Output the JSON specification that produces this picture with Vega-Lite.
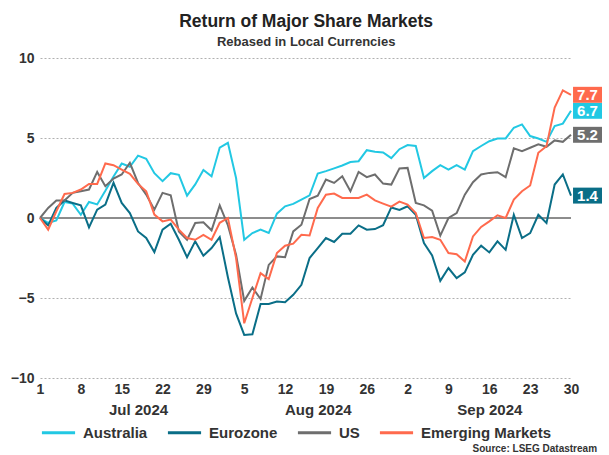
{
  "$schema": "https://vega.github.io/schema/vega-lite/v6.json",
  "background": "white",
  "padding": {"left": 10, "right": 0, "top": 12, "bottom": 0},
  "config": {"font": "Liberation Sans", "view": {"stroke": null}},
  "title": {
    "text": "Return of Major Share Markets",
    "subtitle": "Rebased in Local Currencies",
    "anchor": "middle",
    "fontSize": 17.5,
    "fontWeight": "bold",
    "color": "#222222",
    "subtitleFontSize": 13,
    "subtitleFontWeight": "bold",
    "subtitleColor": "#333333",
    "subtitlePadding": 6,
    "offset": 2
  },
  "resolve": {"legend": {"color": "independent"}},
  "datasets": {
    "returns": [
      {"date":"2024-07-01","market":"Australia","value":0},{"date":"2024-07-01","market":"Eurozone","value":0},{"date":"2024-07-01","market":"US","value":0},{"date":"2024-07-01","market":"Emerging Markets","value":0},
      {"date":"2024-07-02","market":"Australia","value":-0.3},{"date":"2024-07-02","market":"Eurozone","value":-0.46},{"date":"2024-07-02","market":"US","value":0.63},{"date":"2024-07-02","market":"Emerging Markets","value":-0.73},
      {"date":"2024-07-03","market":"Australia","value":-0.15},{"date":"2024-07-03","market":"Eurozone","value":0.63},{"date":"2024-07-03","market":"US","value":1.09},{"date":"2024-07-03","market":"Emerging Markets","value":0.42},
      {"date":"2024-07-04","market":"Australia","value":1.0},{"date":"2024-07-04","market":"Eurozone","value":1.1},{"date":"2024-07-04","market":"US","value":1.09},{"date":"2024-07-04","market":"Emerging Markets","value":1.5},
      {"date":"2024-07-05","market":"Australia","value":0.9},{"date":"2024-07-05","market":"Eurozone","value":0.94},{"date":"2024-07-05","market":"US","value":1.57},{"date":"2024-07-05","market":"Emerging Markets","value":1.57},
      {"date":"2024-07-08","market":"Australia","value":0.2},{"date":"2024-07-08","market":"Eurozone","value":0.79},{"date":"2024-07-08","market":"US","value":1.67},{"date":"2024-07-08","market":"Emerging Markets","value":1.78},
      {"date":"2024-07-09","market":"Australia","value":1.0},{"date":"2024-07-09","market":"Eurozone","value":-0.59},{"date":"2024-07-09","market":"US","value":1.78},{"date":"2024-07-09","market":"Emerging Markets","value":2.13},
      {"date":"2024-07-10","market":"Australia","value":0.85},{"date":"2024-07-10","market":"Eurozone","value":0.52},{"date":"2024-07-10","market":"US","value":2.88},{"date":"2024-07-10","market":"Emerging Markets","value":2.13},
      {"date":"2024-07-11","market":"Australia","value":1.7},{"date":"2024-07-11","market":"Eurozone","value":0.84},{"date":"2024-07-11","market":"US","value":1.99},{"date":"2024-07-11","market":"Emerging Markets","value":3.41},
      {"date":"2024-07-12","market":"Australia","value":2.6},{"date":"2024-07-12","market":"Eurozone","value":2.2},{"date":"2024-07-12","market":"US","value":2.47},{"date":"2024-07-12","market":"Emerging Markets","value":3.3},
      {"date":"2024-07-15","market":"Australia","value":3.4},{"date":"2024-07-15","market":"Eurozone","value":0.94},{"date":"2024-07-15","market":"US","value":2.72},{"date":"2024-07-15","market":"Emerging Markets","value":3.03},
      {"date":"2024-07-16","market":"Australia","value":3.2},{"date":"2024-07-16","market":"Eurozone","value":0.31},{"date":"2024-07-16","market":"US","value":3.45},{"date":"2024-07-16","market":"Emerging Markets","value":2.76},
      {"date":"2024-07-17","market":"Australia","value":3.9},{"date":"2024-07-17","market":"Eurozone","value":-0.84},{"date":"2024-07-17","market":"US","value":2.19},{"date":"2024-07-17","market":"Emerging Markets","value":2.13},
      {"date":"2024-07-18","market":"Australia","value":3.7},{"date":"2024-07-18","market":"Eurozone","value":-1.25},{"date":"2024-07-18","market":"US","value":1.46},{"date":"2024-07-18","market":"Emerging Markets","value":1.67},
      {"date":"2024-07-19","market":"Australia","value":2.8},{"date":"2024-07-19","market":"Eurozone","value":-2.13},{"date":"2024-07-19","market":"US","value":0.52},{"date":"2024-07-19","market":"Emerging Markets","value":0.21},
      {"date":"2024-07-22","market":"Australia","value":2.3},{"date":"2024-07-22","market":"Eurozone","value":-0.73},{"date":"2024-07-22","market":"US","value":1.57},{"date":"2024-07-22","market":"Emerging Markets","value":-0.21},
      {"date":"2024-07-23","market":"Australia","value":2.8},{"date":"2024-07-23","market":"Eurozone","value":-0.36},{"date":"2024-07-23","market":"US","value":1.42},{"date":"2024-07-23","market":"Emerging Markets","value":-0.1},
      {"date":"2024-07-24","market":"Australia","value":2.7},{"date":"2024-07-24","market":"Eurozone","value":-1.36},{"date":"2024-07-24","market":"US","value":-0.84},{"date":"2024-07-24","market":"Emerging Markets","value":-0.73},
      {"date":"2024-07-25","market":"Australia","value":1.4},{"date":"2024-07-25","market":"Eurozone","value":-2.45},{"date":"2024-07-25","market":"US","value":-1.36},{"date":"2024-07-25","market":"Emerging Markets","value":-1.25},
      {"date":"2024-07-26","market":"Australia","value":2.1},{"date":"2024-07-26","market":"Eurozone","value":-1.46},{"date":"2024-07-26","market":"US","value":-0.31},{"date":"2024-07-26","market":"Emerging Markets","value":-1.36},
      {"date":"2024-07-29","market":"Australia","value":3.0},{"date":"2024-07-29","market":"Eurozone","value":-2.36},{"date":"2024-07-29","market":"US","value":-0.27},{"date":"2024-07-29","market":"Emerging Markets","value":-1.05},
      {"date":"2024-07-30","market":"Australia","value":2.6},{"date":"2024-07-30","market":"Eurozone","value":-1.88},{"date":"2024-07-30","market":"US","value":-0.77},{"date":"2024-07-30","market":"Emerging Markets","value":-1.36},
      {"date":"2024-07-31","market":"Australia","value":4.4},{"date":"2024-07-31","market":"Eurozone","value":-1.19},{"date":"2024-07-31","market":"US","value":0.79},{"date":"2024-07-31","market":"Emerging Markets","value":-0.3},
      {"date":"2024-08-01","market":"Australia","value":4.7},{"date":"2024-08-01","market":"Eurozone","value":-3.7},{"date":"2024-08-01","market":"US","value":-0.45},{"date":"2024-08-01","market":"Emerging Markets","value":0.0},
      {"date":"2024-08-02","market":"Australia","value":2.5},{"date":"2024-08-02","market":"Eurozone","value":-5.96},{"date":"2024-08-02","market":"US","value":-2.3},{"date":"2024-08-02","market":"Emerging Markets","value":-2.5},
      {"date":"2024-08-05","market":"Australia","value":-1.36},{"date":"2024-08-05","market":"Eurozone","value":-7.31},{"date":"2024-08-05","market":"US","value":-5.18},{"date":"2024-08-05","market":"Emerging Markets","value":-6.58},
      {"date":"2024-08-06","market":"Australia","value":-0.94},{"date":"2024-08-06","market":"Eurozone","value":-7.27},{"date":"2024-08-06","market":"US","value":-4.35},{"date":"2024-08-06","market":"Emerging Markets","value":-5.0},
      {"date":"2024-08-07","market":"Australia","value":-0.73},{"date":"2024-08-07","market":"Eurozone","value":-5.37},{"date":"2024-08-07","market":"US","value":-5.06},{"date":"2024-08-07","market":"Emerging Markets","value":-3.45},
      {"date":"2024-08-08","market":"Australia","value":-0.94},{"date":"2024-08-08","market":"Eurozone","value":-5.37},{"date":"2024-08-08","market":"US","value":-2.93},{"date":"2024-08-08","market":"Emerging Markets","value":-3.82},
      {"date":"2024-08-09","market":"Australia","value":0.27},{"date":"2024-08-09","market":"Eurozone","value":-5.22},{"date":"2024-08-09","market":"US","value":-2.4},{"date":"2024-08-09","market":"Emerging Markets","value":-2.19},
      {"date":"2024-08-12","market":"Australia","value":0.73},{"date":"2024-08-12","market":"Eurozone","value":-5.27},{"date":"2024-08-12","market":"US","value":-2.45},{"date":"2024-08-12","market":"Emerging Markets","value":-1.73},
      {"date":"2024-08-13","market":"Australia","value":0.88},{"date":"2024-08-13","market":"Eurozone","value":-4.8},{"date":"2024-08-13","market":"US","value":-0.84},{"date":"2024-08-13","market":"Emerging Markets","value":-1.6},
      {"date":"2024-08-14","market":"Australia","value":1.15},{"date":"2024-08-14","market":"Eurozone","value":-4.18},{"date":"2024-08-14","market":"US","value":-0.42},{"date":"2024-08-14","market":"Emerging Markets","value":-1.05},
      {"date":"2024-08-15","market":"Australia","value":1.42},{"date":"2024-08-15","market":"Eurozone","value":-2.5},{"date":"2024-08-15","market":"US","value":1.19},{"date":"2024-08-15","market":"Emerging Markets","value":-1.09},
      {"date":"2024-08-16","market":"Australia","value":2.78},{"date":"2024-08-16","market":"Eurozone","value":-1.88},{"date":"2024-08-16","market":"US","value":1.4},{"date":"2024-08-16","market":"Emerging Markets","value":0.63},
      {"date":"2024-08-19","market":"Australia","value":2.93},{"date":"2024-08-19","market":"Eurozone","value":-1.25},{"date":"2024-08-19","market":"US","value":2.4},{"date":"2024-08-19","market":"Emerging Markets","value":1.46},
      {"date":"2024-08-20","market":"Australia","value":3.1},{"date":"2024-08-20","market":"Eurozone","value":-1.5},{"date":"2024-08-20","market":"US","value":2.19},{"date":"2024-08-20","market":"Emerging Markets","value":1.53},
      {"date":"2024-08-21","market":"Australia","value":3.28},{"date":"2024-08-21","market":"Eurozone","value":-0.98},{"date":"2024-08-21","market":"US","value":2.61},{"date":"2024-08-21","market":"Emerging Markets","value":1.25},
      {"date":"2024-08-22","market":"Australia","value":3.5},{"date":"2024-08-22","market":"Eurozone","value":-0.98},{"date":"2024-08-22","market":"US","value":1.67},{"date":"2024-08-22","market":"Emerging Markets","value":1.25},
      {"date":"2024-08-23","market":"Australia","value":3.55},{"date":"2024-08-23","market":"Eurozone","value":-0.46},{"date":"2024-08-23","market":"US","value":2.88},{"date":"2024-08-23","market":"Emerging Markets","value":1.25},
      {"date":"2024-08-26","market":"Australia","value":4.24},{"date":"2024-08-26","market":"Eurozone","value":-0.73},{"date":"2024-08-26","market":"US","value":2.55},{"date":"2024-08-26","market":"Emerging Markets","value":1.46},
      {"date":"2024-08-27","market":"Australia","value":4.14},{"date":"2024-08-27","market":"Eurozone","value":-0.69},{"date":"2024-08-27","market":"US","value":2.72},{"date":"2024-08-27","market":"Emerging Markets","value":1.1},
      {"date":"2024-08-28","market":"Australia","value":4.1},{"date":"2024-08-28","market":"Eurozone","value":-0.45},{"date":"2024-08-28","market":"US","value":2.15},{"date":"2024-08-28","market":"Emerging Markets","value":0.9},
      {"date":"2024-08-29","market":"Australia","value":3.74},{"date":"2024-08-29","market":"Eurozone","value":0.66},{"date":"2024-08-29","market":"US","value":2.09},{"date":"2024-08-29","market":"Emerging Markets","value":0.71},
      {"date":"2024-08-30","market":"Australia","value":4.3},{"date":"2024-08-30","market":"Eurozone","value":0.5},{"date":"2024-08-30","market":"US","value":3.1},{"date":"2024-08-30","market":"Emerging Markets","value":1.02},
      {"date":"2024-09-02","market":"Australia","value":4.56},{"date":"2024-09-02","market":"Eurozone","value":0.73},{"date":"2024-09-02","market":"US","value":3.13},{"date":"2024-09-02","market":"Emerging Markets","value":0.84},
      {"date":"2024-09-03","market":"Australia","value":4.5},{"date":"2024-09-03","market":"Eurozone","value":0.2},{"date":"2024-09-03","market":"US","value":0.94},{"date":"2024-09-03","market":"Emerging Markets","value":0.31},
      {"date":"2024-09-04","market":"Australia","value":2.5},{"date":"2024-09-04","market":"Eurozone","value":-1.57},{"date":"2024-09-04","market":"US","value":0.79},{"date":"2024-09-04","market":"Emerging Markets","value":-1.25},
      {"date":"2024-09-05","market":"Australia","value":2.93},{"date":"2024-09-05","market":"Eurozone","value":-2.34},{"date":"2024-09-05","market":"US","value":0.46},{"date":"2024-09-05","market":"Emerging Markets","value":-1.19},
      {"date":"2024-09-06","market":"Australia","value":3.3},{"date":"2024-09-06","market":"Eurozone","value":-3.93},{"date":"2024-09-06","market":"US","value":-1.1},{"date":"2024-09-06","market":"Emerging Markets","value":-1.36},
      {"date":"2024-09-09","market":"Australia","value":3.03},{"date":"2024-09-09","market":"Eurozone","value":-3.13},{"date":"2024-09-09","market":"US","value":0.0},{"date":"2024-09-09","market":"Emerging Markets","value":-2.19},
      {"date":"2024-09-10","market":"Australia","value":3.3},{"date":"2024-09-10","market":"Eurozone","value":-3.76},{"date":"2024-09-10","market":"US","value":0.31},{"date":"2024-09-10","market":"Emerging Markets","value":-2.26},
      {"date":"2024-09-11","market":"Australia","value":3.03},{"date":"2024-09-11","market":"Eurozone","value":-3.4},{"date":"2024-09-11","market":"US","value":1.46},{"date":"2024-09-11","market":"Emerging Markets","value":-2.72},
      {"date":"2024-09-12","market":"Australia","value":4.18},{"date":"2024-09-12","market":"Eurozone","value":-2.3},{"date":"2024-09-12","market":"US","value":2.24},{"date":"2024-09-12","market":"Emerging Markets","value":-1.15},
      {"date":"2024-09-13","market":"Australia","value":4.5},{"date":"2024-09-13","market":"Eurozone","value":-1.73},{"date":"2024-09-13","market":"US","value":2.72},{"date":"2024-09-13","market":"Emerging Markets","value":-0.56},
      {"date":"2024-09-16","market":"Australia","value":4.8},{"date":"2024-09-16","market":"Eurozone","value":-2.15},{"date":"2024-09-16","market":"US","value":2.82},{"date":"2024-09-16","market":"Emerging Markets","value":-0.21},
      {"date":"2024-09-17","market":"Australia","value":4.97},{"date":"2024-09-17","market":"Eurozone","value":-1.46},{"date":"2024-09-17","market":"US","value":2.86},{"date":"2024-09-17","market":"Emerging Markets","value":0.17},
      {"date":"2024-09-18","market":"Australia","value":4.97},{"date":"2024-09-18","market":"Eurozone","value":-1.99},{"date":"2024-09-18","market":"US","value":2.55},{"date":"2024-09-18","market":"Emerging Markets","value":0.0},
      {"date":"2024-09-19","market":"Australia","value":5.64},{"date":"2024-09-19","market":"Eurozone","value":0.2},{"date":"2024-09-19","market":"US","value":4.35},{"date":"2024-09-19","market":"Emerging Markets","value":1.15},
      {"date":"2024-09-20","market":"Australia","value":5.85},{"date":"2024-09-20","market":"Eurozone","value":-1.25},{"date":"2024-09-20","market":"US","value":4.18},{"date":"2024-09-20","market":"Emerging Markets","value":1.67},
      {"date":"2024-09-23","market":"Australia","value":5.12},{"date":"2024-09-23","market":"Eurozone","value":-0.94},{"date":"2024-09-23","market":"US","value":4.39},{"date":"2024-09-23","market":"Emerging Markets","value":2.03},
      {"date":"2024-09-24","market":"Australia","value":4.97},{"date":"2024-09-24","market":"Eurozone","value":0.2},{"date":"2024-09-24","market":"US","value":4.6},{"date":"2024-09-24","market":"Emerging Markets","value":4.08},
      {"date":"2024-09-25","market":"Australia","value":4.76},{"date":"2024-09-25","market":"Eurozone","value":-0.31},{"date":"2024-09-25","market":"US","value":4.45},{"date":"2024-09-25","market":"Emerging Markets","value":4.49},
      {"date":"2024-09-26","market":"Australia","value":5.75},{"date":"2024-09-26","market":"Eurozone","value":2.09},{"date":"2024-09-26","market":"US","value":4.85},{"date":"2024-09-26","market":"Emerging Markets","value":6.9},
      {"date":"2024-09-27","market":"Australia","value":5.9},{"date":"2024-09-27","market":"Eurozone","value":2.72},{"date":"2024-09-27","market":"US","value":4.76},{"date":"2024-09-27","market":"Emerging Markets","value":7.98},
      {"date":"2024-09-30","market":"Australia","value":6.7},{"date":"2024-09-30","market":"Eurozone","value":1.4},{"date":"2024-09-30","market":"US","value":5.2},{"date":"2024-09-30","market":"Emerging Markets","value":7.7}
    ]
  },
  "vconcat": [
    {
      "width": 531,
      "height": 320,
      "title": {
        "text": "Source: LSEG Datastream",
        "orient": "bottom",
        "anchor": "end",
        "frame": "bounds",
        "fontSize": 10,
        "fontWeight": "bold",
        "color": "#333333",
        "offset": 3,
        "dx": -5
      },
      "data": {"name": "returns"},
      "resolve": {"axis": {"x": "independent"}},
      "layer": [
        {
          "mark": {"type": "rule", "color": "#8c8c8c", "strokeWidth": 1},
          "encoding": {"y": {"datum": 0, "type": "quantitative"}}
        },
        {
          "mark": {"type": "line", "strokeWidth": 2},
          "encoding": {
            "x": {
              "field": "date",
              "type": "ordinal",
              "scale": {"type": "point", "padding": 0},
              "axis": {
                "orient": "bottom",
                "values": ["2024-07-01","2024-07-08","2024-07-15","2024-07-22","2024-07-29","2024-08-05","2024-08-12","2024-08-19","2024-08-26","2024-09-02","2024-09-09","2024-09-16","2024-09-23","2024-09-30"],
                "labelExpr": "toNumber(substring(datum.value, 8, 10))",
                "title": null,
                "domain": false,
                "ticks": false,
                "grid": false,
                "labelAngle": 0,
                "labelPadding": 4,
                "labelFontSize": 14,
                "labelFontWeight": "bold",
                "labelColor": "#333333"
              }
            },
            "y": {
              "field": "value",
              "type": "quantitative",
              "scale": {"domain": [-10, 10], "nice": false},
              "axis": {
                "values": [-10, -5, 0, 5, 10],
                "title": null,
                "domain": false,
                "ticks": false,
                "grid": true,
                "labelPadding": 6,
                "labelFontSize": 14,
                "labelFontWeight": "bold",
                "labelColor": "#333333",
                "gridColor": "#b0b0b0",
                "gridDash": [2, 2],
                "gridWidth": 1,
                "gridOpacity": 1
              }
            },
            "color": {
              "field": "market",
              "type": "nominal",
              "scale": {
                "domain": ["Australia", "Eurozone", "US", "Emerging Markets"],
                "range": ["#22c8e3", "#0a6e87", "#6e6e6e", "#ff6a4d"]
              },
              "legend": {
                "orient": "bottom",
                "direction": "horizontal",
                "title": null,
                "symbolType": "stroke",
                "symbolSize": 1100,
                "symbolStrokeWidth": 3,
                "labelFontSize": 15,
                "labelFontWeight": "bold",
                "labelColor": "#333333",
                "labelOffset": 6,
                "columnPadding": 13,
                "labelLimit": 300,
                "offset": -3
              }
            }
          }
        },
        {
          "transform": [{"filter": "datum.date == '2024-09-30'"}],
          "mark": {
            "type": "point",
            "shape": "M0.14,-0.55L2.14,-0.55L2.14,0.55L0.14,0.55Z",
            "size": 841,
            "filled": true,
            "opacity": 1,
            "strokeWidth": 0
          },
          "encoding": {
            "x": {"field": "date", "type": "ordinal", "axis": null},
            "y": {"field": "value", "type": "quantitative"},
            "fill": {
              "field": "market",
              "type": "nominal",
              "scale": {
                "domain": ["Australia", "Eurozone", "US", "Emerging Markets"],
                "range": ["#22c8e3", "#0a6e87", "#6e6e6e", "#ff6a4d"]
              },
              "legend": null
            }
          }
        },
        {
          "transform": [{"filter": "datum.date == '2024-09-30'"}],
          "mark": {
            "type": "text",
            "dx": 16.5,
            "align": "center",
            "baseline": "middle",
            "fontSize": 15,
            "fontWeight": "bold",
            "color": "white"
          },
          "encoding": {
            "x": {
              "field": "date",
              "type": "ordinal",
              "axis": {
                "orient": "bottom",
                "offset": 20,
                "values": ["2024-07-17", "2024-08-16", "2024-09-16"],
                "labelExpr": "datum.value == '2024-07-17' ? 'Jul 2024' : datum.value == '2024-08-16' ? 'Aug 2024' : 'Sep 2024'",
                "title": null,
                "domain": false,
                "ticks": false,
                "grid": false,
                "labelAngle": 0,
                "labelPadding": 4,
                "labelFontSize": 15,
                "labelFontWeight": "bold",
                "labelColor": "#333333"
              }
            },
            "y": {"field": "value", "type": "quantitative"},
            "text": {"field": "value", "type": "quantitative", "format": ".1f"}
          }
        }
      ]
    }
  ]
}
